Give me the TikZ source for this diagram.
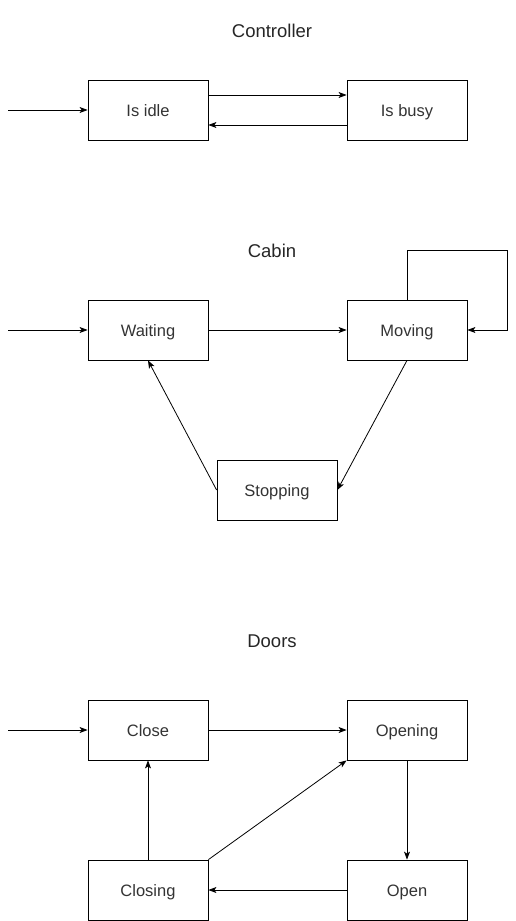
\documentclass[tikz,border=0pt]{standalone}
\usepackage{fontspec}
\setmainfont{Liberation Sans}
\usetikzlibrary{arrows.meta}
\begin{document}
\begin{tikzpicture}[x=1pt,y=-1pt,
  state/.style={draw,line width=0.8pt,minimum width=120pt,minimum height=60pt,inner sep=0pt,text height=13pt,text depth=0pt,font=\fontsize{16.5}{18}\selectfont,text=black!80},
  title/.style={font=\fontsize{18.5}{20}\selectfont,inner sep=0pt,text height=14.5pt,text depth=0pt,text=black!85},
  conn/.style={line width=0.8pt,-{Stealth[length=8pt,width=6pt,inset=2pt]}}]
\useasboundingbox (0,0) rectangle (516,921);
% Controller
\node[title] (tc) at (272,30) {Controller};
\node[state] (idle) at (148,110) {Is idle};
\node[state] (busy) at (407,110) {Is busy};
\coordinate (s1) at (8,110);
\draw[conn] (s1) -- (idle.west);
\draw[conn] ([yshift=15pt]idle.east) -- ([yshift=15pt]busy.west);
\draw[conn] ([yshift=-15pt]busy.west) -- ([yshift=-15pt]idle.east);
% Cabin
\node[title] (tcab) at (272,250) {Cabin};
\node[state] (wait) at (148,330) {Waiting};
\node[state] (move) at (407,330) {Moving};
\node[state] (stop) at (277,490) {Stopping};
\coordinate (s2) at (8,330);
\draw[conn] (s2) -- (wait.west);
\draw[conn] (wait.east) -- (move.west);
\draw[conn] (move.north) |- (507,250) |- (move.east);
\draw[conn] (move.south) -- (stop.east);
\draw[conn] (stop.west) -- (wait.south);
% Doors
\node[title] (tdoor) at (272,640) {Doors};
\node[state] (close) at (148,730) {Close};
\node[state] (opening) at (407,730) {Opening};
\node[state] (closing) at (148,890) {Closing};
\node[state] (open) at (407,890) {Open};
\coordinate (s3) at (8,730);
\draw[conn] (s3) -- (close.west);
\draw[conn] (close.east) -- (opening.west);
\draw[conn] (opening.south) -- (open.north);
\draw[conn] (open.west) -- (closing.east);
\draw[conn] (closing.north) -- (close.south);
\draw[conn] (closing.north east) -- (opening.south west);
\end{tikzpicture}
\end{document}
